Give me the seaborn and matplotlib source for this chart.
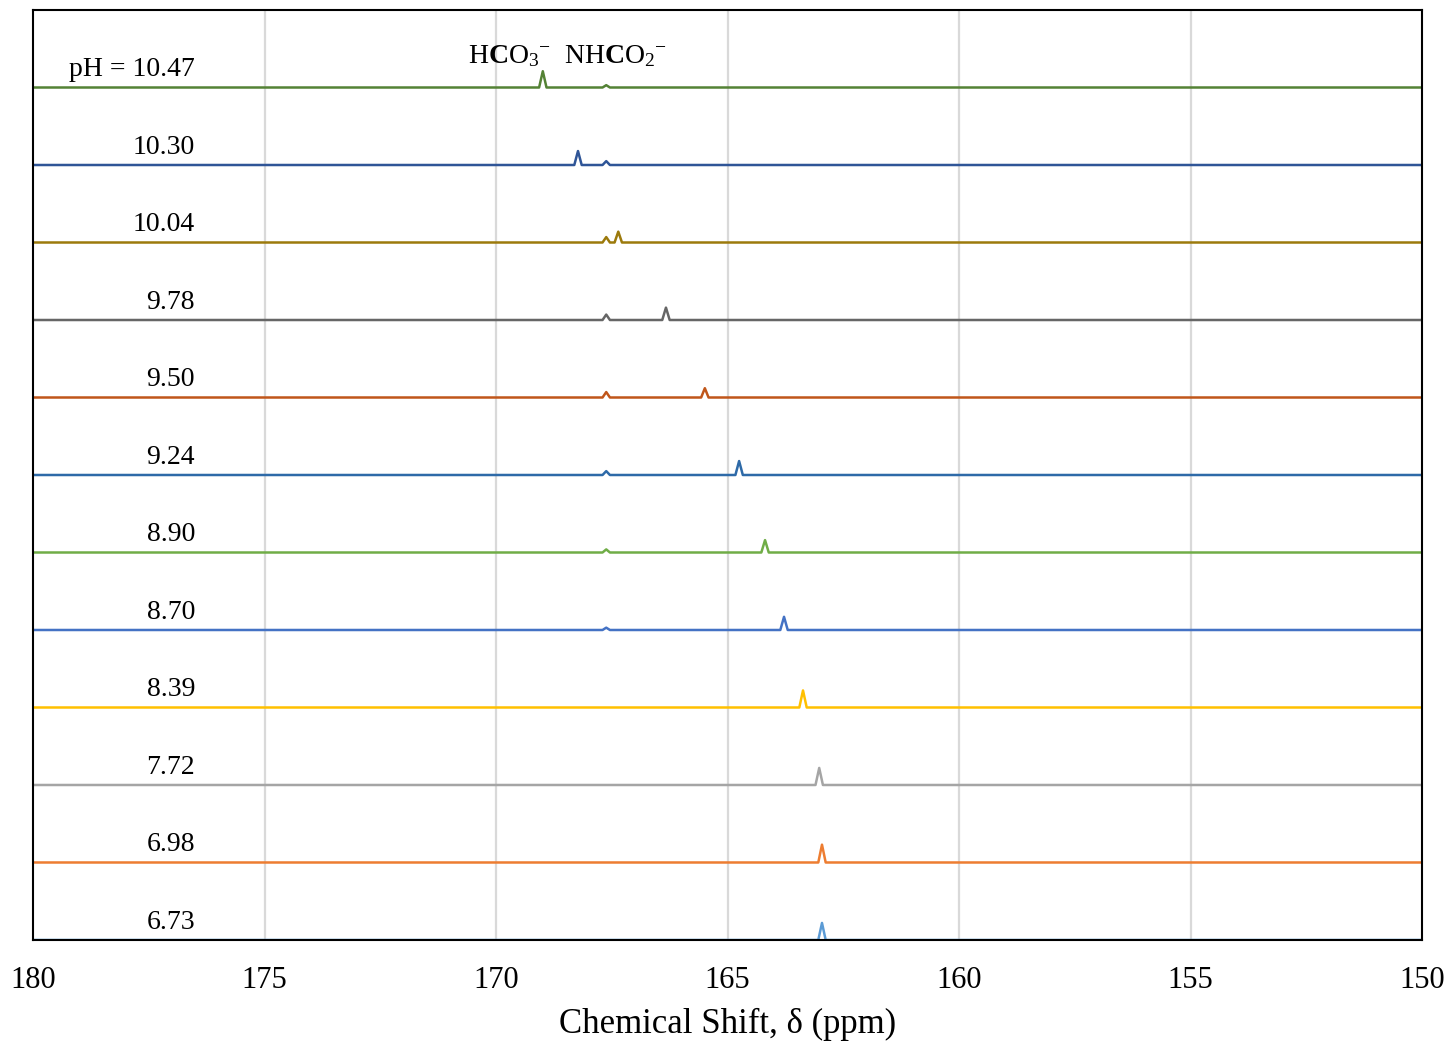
import matplotlib
matplotlib.use("Agg")
import matplotlib.pyplot as plt
import seaborn as sns
import pandas as pd
import numpy as np

# ---- data ----
ph_labels = ["pH = 10.47", "10.30", "10.04", "9.78", "9.50", "9.24",
             "8.90", "8.70", "8.39", "7.72", "6.98", "6.73"]
bicarb_shift = [168.99, 168.23, 167.36, 166.33, 165.49, 164.75,
                164.19, 163.78, 163.37, 163.02, 162.96, 162.96]
bicarb_height = [0.21, 0.18, 0.14, 0.16, 0.12, 0.18,
                 0.16, 0.17, 0.22, 0.22, 0.23, 0.22]
carbamate_shift = [167.62] * 12
carbamate_height = [0.03, 0.05, 0.07, 0.07, 0.07, 0.05,
                    0.04, 0.03, 0.0, 0.0, 0.0, 0.0]
peak_halfwidth = 0.08
colors = ["#548235", "#2F5597", "#9C7A0C", "#666666", "#C0561A", "#2E6AA8",
          "#70AD47", "#4472C4", "#FFC000", "#A5A5A5", "#ED7D31", "#5B9BD5"]
x_ticks = [180, 175, 170, 165, 160, 155, 150]

# ---- build long table ----
rows = []
n = len(ph_labels)
for i, lab in enumerate(ph_labels):
    offset = n - 1 - i
    pts = [(180.0, 0.0), (150.0, 0.0)]
    for s, h in [(bicarb_shift[i], bicarb_height[i]), (carbamate_shift[i], carbamate_height[i])]:
        if h > 0:
            pts += [(s + peak_halfwidth, 0.0), (s, h), (s - peak_halfwidth, 0.0)]
    pts.sort(key=lambda p: -p[0])
    for x, y in pts:
        rows.append({"ppm": x, "intensity": y + offset, "sample": lab})
df = pd.DataFrame(rows)

sns.set_theme(style="white")
plt.rcParams["font.family"] = ["Liberation Serif", "DejaVu Serif"]
plt.rcParams["mathtext.fontset"] = "custom"
plt.rcParams["mathtext.rm"] = "Liberation Serif"
plt.rcParams["mathtext.bf"] = "Liberation Serif:bold"
plt.rcParams["mathtext.it"] = "Liberation Serif:italic"
plt.rcParams["text.color"] = "black"
plt.rcParams["axes.labelcolor"] = "black"
plt.rcParams["xtick.color"] = "black"

fig = plt.figure(figsize=(14.5, 10.42), dpi=100)
ax = fig.add_axes([0.0228, 0.0979, 0.9579, 0.8925])

for xt in x_ticks[1:-1]:
    ax.axvline(xt, color="#D9D9D9", lw=1.6, zorder=0)

sns.lineplot(data=df, x="ppm", y="intensity", hue="sample", palette=colors,
             hue_order=ph_labels, estimator=None, sort=False, legend=False,
             lw=1.8, ax=ax)

for i, lab in enumerate(ph_labels):
    offset = n - 1 - i
    ax.text(176.5, offset + 0.07, lab, ha="right", va="bottom", fontsize=20, color="black")

ax.text(169.72, 11.40, r"H$\mathbf{C}$O$_3$$^{-}$", ha="center", va="center", fontsize=20)
ax.text(167.43, 11.40, r"NH$\mathbf{C}$O$_2$$^{-}$", ha="center", va="center", fontsize=20)

ax.set_xlim(180, 150)
ax.set_ylim(0, 12.0)
ax.set_xticks(x_ticks)
ax.set_xticklabels([str(t) for t in x_ticks])
ax.set_yticks([])
ax.tick_params(axis="x", length=0, pad=19, labelsize=22, labelcolor="black")
ax.set_xlabel("Chemical Shift, δ (ppm)", fontsize=25, labelpad=9, color="black")
ax.set_ylabel("")
for sp in ax.spines.values():
    sp.set_visible(True)
    sp.set_color("black")
    sp.set_linewidth(1.5)

fig.savefig("out.png", dpi=100)
